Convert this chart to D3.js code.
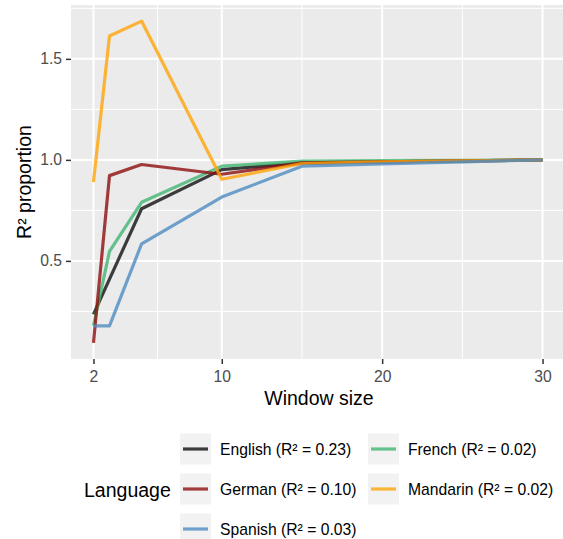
<!DOCTYPE html>
<html>
<head>
<meta charset="utf-8">
<script src="https://cdn.jsdelivr.net/npm/d3@7"></script>
<style>
  body { margin: 0; background: #fff; }
  svg { display: block; font-family: "Liberation Sans", Arial, sans-serif; }
</style>
</head>
<body>
<script>
// window sizes and R² proportion per language
var windowSizes = [2, 3, 5, 10, 15, 20, 25, 30];
var english  = [0.235, 0.41, 0.758, 0.952, 0.985, 0.99, 0.995, 1.0];
var french   = [0.18, 0.547, 0.79, 0.969, 0.994, 0.996, 0.998, 1.0];
var german   = [0.094, 0.922, 0.977, 0.929, 0.985, 0.99, 0.995, 1.0];
var mandarin = [0.89, 1.613, 1.687, 0.904, 0.982, 0.99, 0.995, 1.0];
var spanish  = [0.178, 0.178, 0.584, 0.816, 0.969, 0.98, 0.99, 1.0];

var languages = ["English", "French", "German", "Mandarin", "Spanish"];
var r2Labels = ["0.23", "0.02", "0.10", "0.02", "0.03"];
var colors = ["#0f0f0f", "#41b572", "#8d0e0e", "#ffa408", "#4e8cc2"];
var xTicks = [2, 10, 20, 30];
var yTicks = [0.5, 1.0, 1.5];

var series = [english, french, german, mandarin, spanish];

var width = 563, height = 539,
    panelLeft = 71, panelRight = 565, panelTop = 5, panelBottom = 359;

var svg = d3.select("body").append("svg")
    .attr("width", width)
    .attr("height", height);

// ggplot style 5% expansion
var xExt = d3.extent(windowSizes), xPad = (xExt[1] - xExt[0]) * 0.05;
var allY = d3.merge(series);
var yExt = d3.extent(allY), yPad = (yExt[1] - yExt[0]) * 0.05;

var x = d3.scaleLinear().domain([xExt[0] - xPad, xExt[1] + xPad]).range([panelLeft, panelRight]);
var y = d3.scaleLinear().domain([yExt[0] - yPad, yExt[1] + yPad]).range([panelBottom, panelTop]);

// panel
svg.append("rect")
    .attr("x", panelLeft).attr("y", panelTop)
    .attr("width", panelRight - panelLeft).attr("height", panelBottom - panelTop)
    .attr("fill", "#ebebeb");

var grid = svg.append("g");
var xMinor = [6, 15, 25], yMinor = [0.25, 0.75, 1.25, 1.75];
xMinor.forEach(function(v){
  grid.append("line").attr("x1", x(v)).attr("x2", x(v)).attr("y1", panelTop).attr("y2", panelBottom)
      .attr("stroke", "#fff").attr("stroke-width", 1);
});
yMinor.forEach(function(v){
  if (y(v) < panelTop) return;
  grid.append("line").attr("x1", panelLeft).attr("x2", panelRight).attr("y1", y(v)).attr("y2", y(v))
      .attr("stroke", "#fff").attr("stroke-width", 1);
});
xTicks.forEach(function(v){
  grid.append("line").attr("x1", x(v)).attr("x2", x(v)).attr("y1", panelTop).attr("y2", panelBottom)
      .attr("stroke", "#fff").attr("stroke-width", 2);
});
yTicks.forEach(function(v){
  grid.append("line").attr("x1", panelLeft).attr("x2", panelRight).attr("y1", y(v)).attr("y2", y(v))
      .attr("stroke", "#fff").attr("stroke-width", 2);
});

// lines
var line = d3.line()
    .x(function(d, i){ return x(windowSizes[i]); })
    .y(function(d){ return y(d); });

svg.append("clipPath").attr("id", "clip").append("rect")
    .attr("x", panelLeft).attr("y", panelTop)
    .attr("width", panelRight - panelLeft).attr("height", panelBottom - panelTop);

var lineGroup = svg.append("g").attr("clip-path", "url(#clip)");
for (var i = 0; i < series.length; i++) {
  lineGroup.append("path")
      .datum(series[i])
      .attr("d", line)
      .attr("fill", "none")
      .attr("stroke", colors[i])
      .attr("stroke-opacity", 0.8)
      .attr("stroke-width", 3.2)
      .attr("stroke-linejoin", "round");
}

// axes
var xAxis = svg.append("g")
    .attr("transform", "translate(0," + panelBottom + ")")
    .call(d3.axisBottom(x).tickValues(xTicks).tickSize(5).tickPadding(7).tickFormat(d3.format("d")));
var yAxis = svg.append("g")
    .attr("transform", "translate(" + panelLeft + ",0)")
    .call(d3.axisLeft(y).tickValues(yTicks).tickSize(5).tickPadding(4).tickFormat(d3.format(".1f")));

[xAxis, yAxis].forEach(function(ax){
  ax.select(".domain").remove();
  ax.selectAll(".tick line").attr("stroke", "#333").attr("stroke-width", 1.5);
  ax.selectAll(".tick text").attr("fill", "#4d4d4d")
      .style("font-size", "15.7px").style("font-family", "Liberation Sans, Arial, sans-serif");
});

// axis titles
svg.append("text")
    .attr("x", (panelLeft + 563) / 2 + 2).attr("y", 405)
    .attr("text-anchor", "middle")
    .style("font-size", "19.5px")
    .text("Window size");

svg.append("text")
    .attr("transform", "translate(31," + (panelTop + panelBottom) / 2 + ") rotate(-90)")
    .attr("text-anchor", "middle")
    .style("font-size", "19.5px")
    .text("R² proportion");

// legend
var legend = svg.append("g");
legend.append("text")
    .attr("x", 84).attr("y", 497)
    .style("font-size", "19.5px")
    .text("Language");

var colX = [180, 368], rowY = [449, 489, 529], keySize = 31;
for (var k = 0; k < languages.length; k++) {
  var col = k % 2, row = Math.floor(k / 2);
  var kx = colX[col], ky = rowY[row];
  legend.append("rect")
      .attr("x", kx).attr("y", ky - keySize / 2)
      .attr("width", keySize).attr("height", keySize)
      .attr("fill", "#f2f2f2");
  legend.append("line")
      .attr("x1", kx + 3).attr("x2", kx + keySize - 3)
      .attr("y1", ky).attr("y2", ky)
      .attr("stroke", colors[k]).attr("stroke-opacity", 0.8)
      .attr("stroke-width", 3.2);
  legend.append("text")
      .attr("x", kx + keySize + 9).attr("y", ky).attr("dy", "0.36em")
      .style("font-size", "15.7px")
      .text(languages[k] + " (R² = " + r2Labels[k] + ")");
}
</script>
</body>
</html>
